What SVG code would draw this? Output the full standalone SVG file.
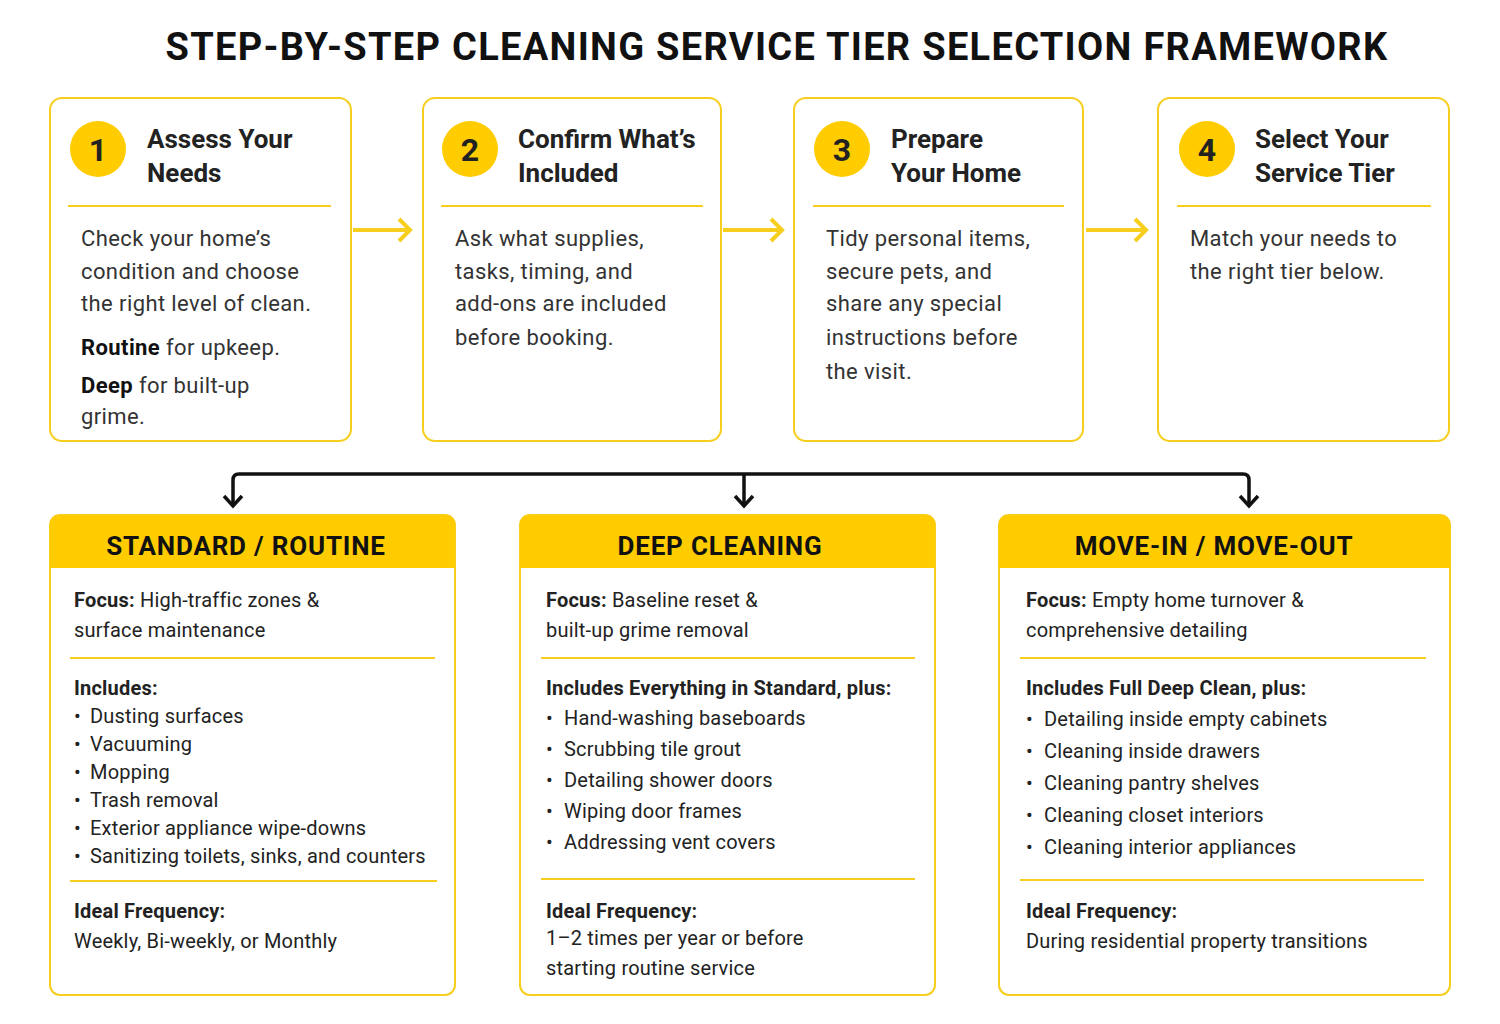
<svg xmlns="http://www.w3.org/2000/svg" width="1500" height="1024" viewBox="0 0 1500 1024">
<style>
text{font-family:"Roboto","Liberation Sans",sans-serif;fill:#222}
.title{font-size:38px;font-weight:bold;fill:#111;letter-spacing:1.3px}
.box{fill:#fff;stroke:#F7CE1E;stroke-width:2}
.circ{fill:#FFCC00}
.num{font-size:32px;font-weight:bold;text-anchor:middle}
.st{font-size:26px;font-weight:bold}
.sep{stroke:#F7CE1E;stroke-width:2}
.b{font-size:22px;fill:#333;letter-spacing:0.4px}
.hdr{fill:#FFCC00}
.ht{font-size:26px;font-weight:bold;text-anchor:middle;fill:#111;letter-spacing:0.8px}
.t{font-size:20px;fill:#222;letter-spacing:0.2px}
.bold{font-weight:bold}
.ya{stroke:#F7CE1E;stroke-width:4;fill:none}
.ka{stroke:#111;stroke-width:3.5;fill:none}
</style>
<rect width="1500" height="1024" fill="#fff"/>
<text class="title" x="777" y="60" text-anchor="middle">STEP-BY-STEP CLEANING SERVICE TIER SELECTION FRAMEWORK</text>

<g id="step1">
<rect class="box" x="50" y="98" width="301" height="343" rx="12"/>
<circle class="circ" cx="98" cy="149" r="28"/><text class="num" x="98" y="161">1</text>
<text class="st" x="147" y="148">Assess Your</text><text class="st" x="147" y="182">Needs</text>
<line class="sep" x1="68" y1="206" x2="331" y2="206"/>
<text class="b" x="81" y="246">Check your home’s</text>
<text class="b" x="81" y="279">condition and choose</text>
<text class="b" x="81" y="311">the right level of clean.</text>
<text class="b" x="81" y="355"><tspan class="bold" fill="#111">Routine</tspan> for upkeep.</text>
<text class="b" x="81" y="393"><tspan class="bold" fill="#111">Deep</tspan> for built-up</text>
<text class="b" x="81" y="424">grime.</text>
</g>
<g id="step2">
<rect class="box" x="423" y="98" width="298" height="343" rx="12"/>
<circle class="circ" cx="470" cy="149" r="28"/><text class="num" x="470" y="161">2</text>
<text class="st" x="518" y="148">Confirm What’s</text><text class="st" x="518" y="182">Included</text>
<line class="sep" x1="441" y1="206" x2="703" y2="206"/>
<text class="b" x="455" y="246">Ask what supplies,</text>
<text class="b" x="455" y="279">tasks, timing, and</text>
<text class="b" x="455" y="311">add-ons are included</text>
<text class="b" x="455" y="345">before booking.</text>
</g>
<g id="step3">
<rect class="box" x="794" y="98" width="289" height="343" rx="12"/>
<circle class="circ" cx="842" cy="149" r="28"/><text class="num" x="842" y="161">3</text>
<text class="st" x="891" y="148">Prepare</text><text class="st" x="891" y="182">Your Home</text>
<line class="sep" x1="813" y1="206" x2="1064" y2="206"/>
<text class="b" x="826" y="246">Tidy personal items,</text>
<text class="b" x="826" y="279">secure pets, and</text>
<text class="b" x="826" y="311">share any special</text>
<text class="b" x="826" y="345">instructions before</text>
<text class="b" x="826" y="379">the visit.</text>
</g>
<g id="step4">
<rect class="box" x="1158" y="98" width="291" height="343" rx="12"/>
<circle class="circ" cx="1207" cy="149" r="28"/><text class="num" x="1207" y="161">4</text>
<text class="st" x="1255" y="148">Select Your</text><text class="st" x="1255" y="182">Service Tier</text>
<line class="sep" x1="1177" y1="206" x2="1431" y2="206"/>
<text class="b" x="1190" y="246">Match your needs to</text>
<text class="b" x="1190" y="279">the right tier below.</text>
</g>

<g id="connectors">
<path class="ya" d="M353,230 H408 M399,219 L410,230 L399,241"/>
<path class="ya" d="M723,230 H780 M771,219 L782,230 L771,241"/>
<path class="ya" d="M1086,230 H1144 M1135,219 L1146,230 L1135,241"/>
<path class="ka" d="M233,505 V480 Q233,474 239,474 H1243 Q1249,474 1249,480 V505"/>
<line class="ka" x1="744" y1="474" x2="744" y2="505"/>
<path class="ka" d="M224,496 L233,506 L242,496 M735,496 L744,506 L753,496 M1240,496 L1249,506 L1258,496"/>
</g>

<g id="standard">
<rect class="box" x="50" y="515" width="405" height="480" rx="10"/>
<path class="hdr" d="M50,568 V525 Q50,515 60,515 H445 Q455,515 455,525 V568 Z"/>
<text class="ht" x="246" y="555">STANDARD / ROUTINE</text>
<text class="t" x="74" y="607"><tspan class="bold">Focus:</tspan> High-traffic zones &amp;</text>
<text class="t" x="74" y="637">surface maintenance</text>
<line class="sep" x1="70" y1="658" x2="435" y2="658"/>
<text class="t bold" x="74" y="695">Includes:</text>
<g class="t">
<text class="t" x="74" y="723">•</text><text class="t" x="90" y="723">Dusting surfaces</text>
<text class="t" x="74" y="751">•</text><text class="t" x="90" y="751">Vacuuming</text>
<text class="t" x="74" y="779">•</text><text class="t" x="90" y="779">Mopping</text>
<text class="t" x="74" y="807">•</text><text class="t" x="90" y="807">Trash removal</text>
<text class="t" x="74" y="835">•</text><text class="t" x="90" y="835">Exterior appliance wipe-downs</text>
<text class="t" x="74" y="863">•</text><text class="t" x="90" y="863">Sanitizing toilets, sinks, and counters</text>
</g>
<line class="sep" x1="70" y1="881" x2="437" y2="881"/>
<text class="t bold" x="74" y="918">Ideal Frequency:</text>
<text class="t" x="74" y="948">Weekly, Bi-weekly, or Monthly</text>
</g>
<g id="deep">
<rect class="box" x="520" y="515" width="415" height="480" rx="10"/>
<path class="hdr" d="M520,568 V525 Q520,515 530,515 H925 Q935,515 935,525 V568 Z"/>
<text class="ht" x="720" y="555">DEEP CLEANING</text>
<text class="t" x="546" y="607"><tspan class="bold">Focus:</tspan> Baseline reset &amp;</text>
<text class="t" x="546" y="637">built-up grime removal</text>
<line class="sep" x1="541" y1="658" x2="915" y2="658"/>
<text class="t bold" x="546" y="695">Includes Everything in Standard, plus:</text>
<text class="t" x="546" y="725">•</text><text class="t" x="564" y="725">Hand-washing baseboards</text>
<text class="t" x="546" y="756">•</text><text class="t" x="564" y="756">Scrubbing tile grout</text>
<text class="t" x="546" y="787">•</text><text class="t" x="564" y="787">Detailing shower doors</text>
<text class="t" x="546" y="818">•</text><text class="t" x="564" y="818">Wiping door frames</text>
<text class="t" x="546" y="849">•</text><text class="t" x="564" y="849">Addressing vent covers</text>
<line class="sep" x1="541" y1="879" x2="915" y2="879"/>
<text class="t bold" x="546" y="918">Ideal Frequency:</text>
<text class="t" x="546" y="945">1–2 times per year or before</text>
<text class="t" x="546" y="975">starting routine service</text>
</g>
<g id="move">
<rect class="box" x="999" y="515" width="451" height="480" rx="10"/>
<path class="hdr" d="M999,568 V525 Q999,515 1009,515 H1440 Q1450,515 1450,525 V568 Z"/>
<text class="ht" x="1214" y="555">MOVE-IN / MOVE-OUT</text>
<text class="t" x="1026" y="607"><tspan class="bold">Focus:</tspan> Empty home turnover &amp;</text>
<text class="t" x="1026" y="637">comprehensive detailing</text>
<line class="sep" x1="1020" y1="658" x2="1426" y2="658"/>
<text class="t bold" x="1026" y="695">Includes Full Deep Clean, plus:</text>
<text class="t" x="1026" y="726">•</text><text class="t" x="1044" y="726">Detailing inside empty cabinets</text>
<text class="t" x="1026" y="758">•</text><text class="t" x="1044" y="758">Cleaning inside drawers</text>
<text class="t" x="1026" y="790">•</text><text class="t" x="1044" y="790">Cleaning pantry shelves</text>
<text class="t" x="1026" y="822">•</text><text class="t" x="1044" y="822">Cleaning closet interiors</text>
<text class="t" x="1026" y="854">•</text><text class="t" x="1044" y="854">Cleaning interior appliances</text>
<line class="sep" x1="1020" y1="880" x2="1424" y2="880"/>
<text class="t bold" x="1026" y="918">Ideal Frequency:</text>
<text class="t" x="1026" y="948">During residential property transitions</text>
</g>
</svg>
